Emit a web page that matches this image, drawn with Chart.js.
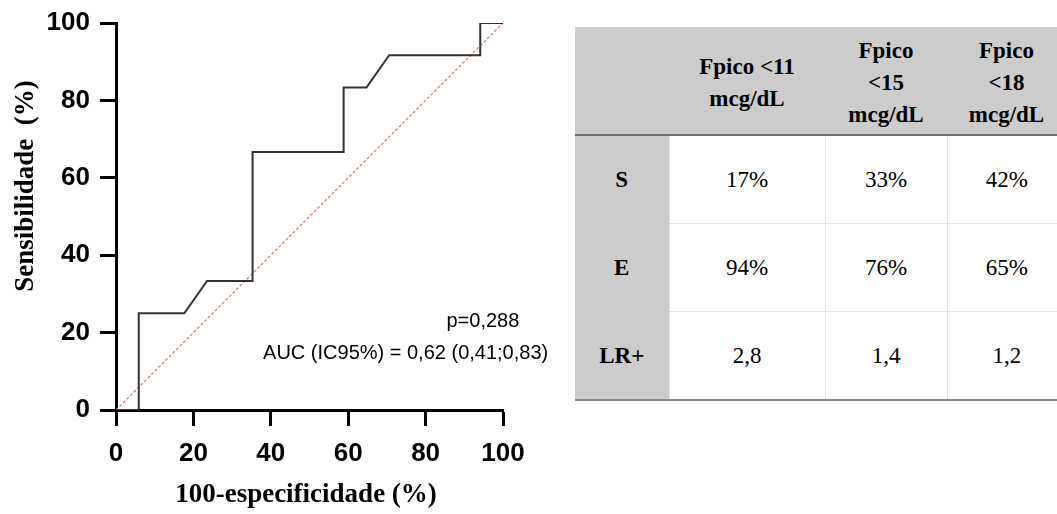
<!DOCTYPE html>
<html>
<head>
<meta charset="utf-8">
<script src="https://cdn.jsdelivr.net/npm/chart.js@4.4.1/dist/chart.umd.min.js"></script>
<style>
  html, body { margin: 0; padding: 0; background: #fff; overflow: hidden; width: 1057px; height: 514px; }
  #wrap { position: absolute; left: 0; top: 0; width: 560px; height: 514px; }
  #tbl {
    position: absolute; left: 575px; top: 27px;
    border-collapse: collapse; table-layout: fixed; width: 491px;
    font-family: "Liberation Serif", "Times New Roman", serif; font-size: 23px; color: #000;
  }
  #tbl th, #tbl td { text-align: center; vertical-align: middle; padding: 0; }
  #tbl th { background: #cccccc; height: 108px; line-height: 32px; font-weight: bold; padding-top: 4px; box-sizing: border-box; border-bottom: 2px solid #6e6e6e; }
  #tbl td { height: 87px; border: 1px solid #e2e2e2; }
  #tbl td.lab { background: #cccccc; font-weight: bold; border-left: none; border-top-color: #cccccc; border-bottom-color: #cccccc; }
  #tbl tr:last-child td { border-bottom: 2px solid #8a8a8a; }
  #tbl tr:first-child td { border-top: none; }
  #tbl td:last-child { border-right: none; }
</style>
</head>
<body>
<div id="wrap"><canvas id="roc" width="560" height="514"></canvas></div>
<table id="tbl"></table>
<script>
// ROC curve (% units)
const fpr = [0, 5.88, 5.88, 17.65, 23.53, 35.29, 35.29, 58.82, 58.82, 64.71, 70.59, 94.12, 94.12, 100];
const sens = [0, 0, 25, 25, 33.33, 33.33, 66.67, 66.67, 83.33, 83.33, 91.67, 91.67, 100, 100];
const refX = [0, 100];
const refY = [0, 100];
const axisTicks = [0, 20, 40, 60, 80, 100];

// table
const colHeads = [["Fpico <11", "mcg/dL"], ["Fpico", "<15", "mcg/dL"], ["Fpico", "<18", "mcg/dL"]];
const rowLabels = ["S", "E", "LR+"];
const sensRow = ["17%", "33%", "42%"];
const specRow = ["94%", "76%", "65%"];
const lrRow = ["2,8", "1,4", "1,2"];

const tbl = document.getElementById("tbl");
const colW = [94, 156, 122, 119];
let html = "<colgroup>" + colW.map((w) => `<col style="width:${w}px">`).join("") + "</colgroup>";
html += "<tr><th></th>" + colHeads.map((h) => "<th>" + h.map((s) => s.replace("<", "&lt;")).join("<br>") + "</th>").join("") + "</tr>";
[sensRow, specRow, lrRow].forEach((row, i) => {
  html += `<tr><td class="lab">${rowLabels[i]}</td>` + row.map((v) => `<td>${v}</td>`).join("") + "</tr>";
});
tbl.innerHTML = html;

const toPts = (xs, ys) => xs.map((x, i) => ({ x: x, y: ys[i] }));

const textPlugin = {
  id: "rocText",
  afterDraw(chart) {
    const ctx = chart.ctx;
    const xs = chart.scales.x;
    const ys = chart.scales.y;
    ctx.save();
    ctx.fillStyle = "#000";
    ctx.font = '20px "Liberation Sans", Arial, sans-serif';
    ctx.textAlign = "left";
    ctx.textBaseline = "alphabetic";
    ctx.fillText("p=0,288", xs.getPixelForValue(85.4), ys.getPixelForValue(21.4));
    ctx.fillText("AUC (IC95%) = 0,62 (0,41;0,83)", xs.getPixelForValue(38), ys.getPixelForValue(13.2));

    // axis titles
    ctx.font = 'bold 27px "Liberation Serif", "Times New Roman", serif';
    ctx.textAlign = "center";
    ctx.fillText("100-especificidade (%)", 306, 502);
    ctx.translate(33, 186);
    ctx.rotate(-Math.PI / 2);
    ctx.fillText("Sensibilidade  (%)", 0, 0);
    ctx.restore();
  }
};

const tickFont = { family: '"Liberation Sans", Arial, sans-serif', size: 26, weight: "bold", lineHeight: 1 };

new Chart(document.getElementById("roc"), {
  type: "scatter",
  data: {
    datasets: [
      {
        label: "ROC",
        data: toPts(fpr, sens),
        showLine: true,
        borderColor: "#333333",
        borderWidth: 2,
        pointRadius: 0,
        fill: false,
        tension: 0
      },
      {
        label: "ref",
        data: toPts(refX, refY),
        showLine: true,
        borderColor: "#f07070",
        borderWidth: 1.3,
        borderDash: [3, 2],
        pointRadius: 0,
        fill: false
      }
    ]
  },
  options: {
    responsive: false,
    animation: false,
    devicePixelRatio: 1,
    layout: { padding: { top: 22, right: 57, left: 0, bottom: 0 } },
    plugins: { legend: { display: false }, tooltip: { enabled: false } },
    scales: {
      x: {
        type: "linear",
        min: 0,
        max: 100,
        afterBuildTicks: (s) => { s.ticks = axisTicks.map((v) => ({ value: v })); },
        afterFit: (s) => { s.height = 104; },
        ticks: { font: tickFont, color: "#000", padding: 15 },
        grid: { drawOnChartArea: false, tickLength: 16, tickWidth: 3, tickColor: "#000" },
        border: { color: "#000", width: 3 }
      },
      y: {
        type: "linear",
        min: 0,
        max: 100,
        afterBuildTicks: (s) => { s.ticks = axisTicks.map((v) => ({ value: v })); },
        afterFit: (s) => { s.width = 116; },
        ticks: { font: tickFont, color: "#000", padding: 10 },
        grid: { drawOnChartArea: false, tickLength: 16, tickWidth: 3, tickColor: "#000" },
        border: { color: "#000", width: 3 }
      }
    }
  },
  plugins: [textPlugin]
});
</script>
</body>
</html>
